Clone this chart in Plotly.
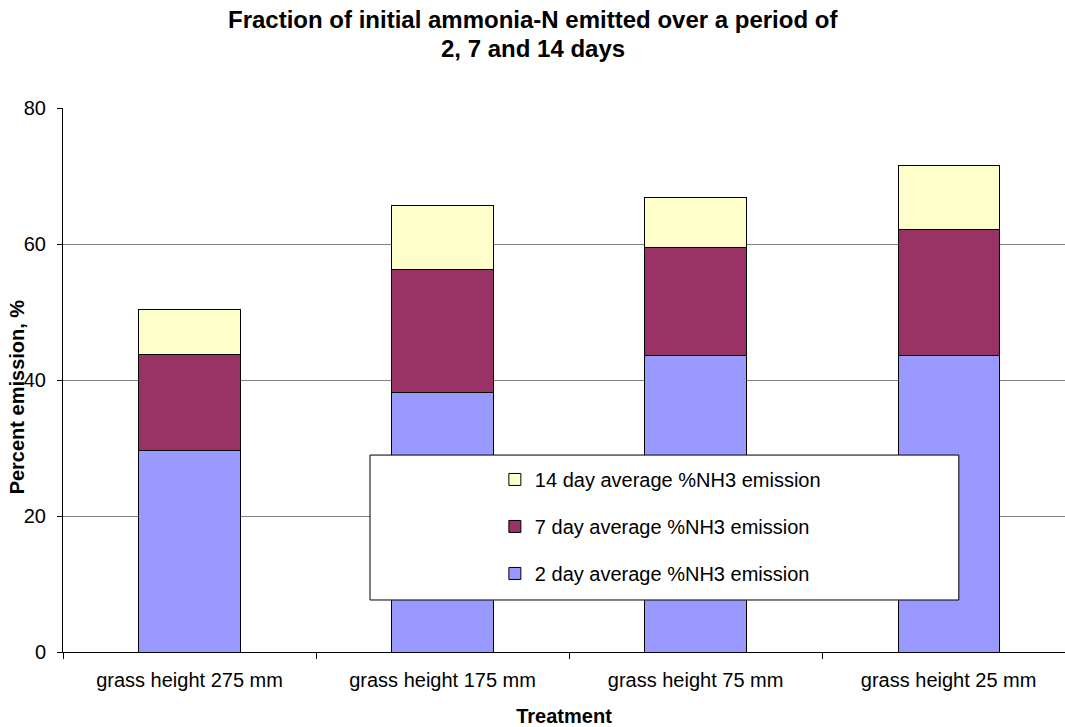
import plotly.graph_objects as go

categories = ["grass height 275 mm", "grass height 175 mm", "grass height 75 mm", "grass height 25 mm"]
day2 = [29.6, 38.2, 43.6, 43.6]
day7 = [14.1, 18.0, 15.9, 18.5]
day14 = [6.6, 9.5, 7.3, 9.4]

series = [
    ("2 day average %NH3 emission", day2, "#9999FF", 3),
    ("7 day average %NH3 emission", day7, "#993366", 2),
    ("14 day average %NH3 emission", day14, "#FFFFCC", 1),
]

title_lines = ["Fraction of initial ammonia-N emitted over a period of", "2, 7 and 14 days"]

FONT = "Liberation Sans, Arial, sans-serif"

fig = go.Figure()
for i, (name, vals, color, rank) in enumerate(series):
    fig.add_trace(go.Bar(
        x=categories, y=vals, name=name,
        marker=dict(color=color, line=dict(color="black", width=1)),
        width=0.4, legendgroup=f"g{i}", legendrank=rank,
    ))

# chart title (two centred bold lines) and rotated y-axis title
annotations = [
    dict(text=f"<b>{line}</b>", xref="paper", yref="paper", x=0.469, y=yy,
         xanchor="center", yanchor="middle", showarrow=False,
         font=dict(size=24, family=FONT, color="black"))
    for line, yy in zip(title_lines, [1.1618, 1.1085])
]
annotations.append(dict(
    text="<b>Percent emission, %</b>", xref="paper", yref="paper",
    x=-0.0464, y=0.469, xanchor="center", yanchor="middle", textangle=-90,
    showarrow=False, font=dict(size=20, family=FONT, color="black"),
))

fig.update_layout(
    width=1065, height=727,
    barmode="stack",
    paper_bgcolor="white", plot_bgcolor="white",
    margin=dict(l=63, r=0, t=108, b=75),
    font=dict(family=FONT, color="black", size=20),
    xaxis=dict(
        range=[-0.5, 3.46], tickson="boundaries", ticks="outside", ticklen=6,
        tickcolor="black", showline=True, linecolor="black", linewidth=1,
        showgrid=False, tickfont=dict(size=20), ticklabelstandoff=10,
        title=dict(text="<b>Treatment</b>", font=dict(size=20), standoff=18),
    ),
    yaxis=dict(
        range=[0, 80], dtick=20, ticks="outside", ticklen=5, tickcolor="black",
        showline=True, linecolor="black", linewidth=1,
        showgrid=True, gridcolor="#808080", gridwidth=1,
        tickfont=dict(size=20), ticklabelstandoff=7,
        zeroline=False,
    ),
    legend=dict(
        x=0.431, xanchor="left", y=0.353, yanchor="top",
        bgcolor="rgba(0,0,0,0)", borderwidth=0,
        traceorder="grouped", tracegroupgap=18,
        font=dict(size=20),
    ),
    annotations=annotations,
    shapes=[dict(
        type="rect", xref="paper", yref="paper",
        x0=0.3064, x1=0.894, y0=0.0956, y1=0.362,
        fillcolor="white", line=dict(color="black", width=1), layer="above",
    )],
)

fig.write_html("out.html")
